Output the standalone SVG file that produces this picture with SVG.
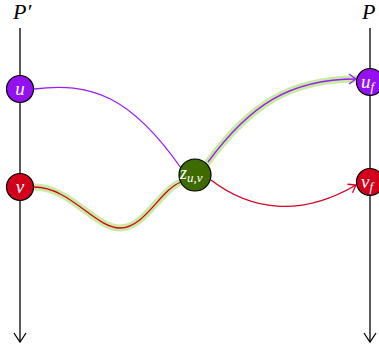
<svg xmlns="http://www.w3.org/2000/svg" width="379" height="354" viewBox="0 0 379 354">
<style>
.lbl{font-family:"Liberation Serif","DejaVu Serif",serif;font-style:italic;fill:#fff}
.title{font-family:"Liberation Serif","DejaVu Serif",serif;font-style:italic;font-size:22px;fill:#000}
.node{stroke:#000;stroke-width:1.2}
.halo{fill:none;stroke:#c9eaa2;stroke-width:7;stroke-linecap:round}
.axis{fill:none;stroke:#000;stroke-width:1.3}
.pur{fill:none;stroke:#9a1cf5;stroke-width:1.3}
.red{fill:none;stroke:#d5001f;stroke-width:1.3}
</style>
<defs>
<marker id="ak" viewBox="-10 -6 12 12" refX="0" refY="0" markerWidth="12" markerHeight="12" markerUnits="userSpaceOnUse" orient="auto" overflow="visible">
<path d="M-9,-6 Q-2,-1.5 0,0 Q-2,1.5 -9,6" fill="none" stroke="#000" stroke-width="1.3"/>
</marker>
<marker id="ap" viewBox="-10 -6 12 12" refX="0" refY="0" markerWidth="12" markerHeight="12" markerUnits="userSpaceOnUse" orient="auto" overflow="visible">
<path d="M-7,-5 Q-1.5,-1 0,0 Q-1.5,1 -7,5" fill="none" stroke="#9a1cf5" stroke-width="1.3"/>
</marker>
<marker id="ar" viewBox="-10 -6 12 12" refX="0" refY="0" markerWidth="12" markerHeight="12" markerUnits="userSpaceOnUse" orient="auto" overflow="visible">
<path d="M-7,-5 Q-1.5,-1 0,0 Q-1.5,1 -7,5" fill="none" stroke="#d5001f" stroke-width="1.3"/>
</marker>
</defs>
<text class="title" x="13" y="19">P′</text>
<text class="title" x="362" y="19">P</text>
<g id="connectors">
<path class="halo" d="M34,187 C70,187 95,228 120,228 C145,228 160,190 181,182"/>
<path class="halo" d="M208,162 C250,105 290,79 356,79"/>
<path class="axis" d="M20,28 V342" marker-end="url(#ak)"/>
<path class="axis" d="M370,28 V342" marker-end="url(#ak)"/>
<path class="pur" d="M34,89 C90,82 130,95 181,168"/>
<path class="red" d="M34,187 C70,187 95,228 120,228 C145,228 160,190 181,182"/>
<path class="pur" d="M208,162 C250,105 290,79 356,79" marker-end="url(#ap)"/>
<path class="red" d="M211,180 C250,210 300,218 356,185" marker-end="url(#ar)"/>
</g>
<g id="node-u"><circle class="node" cx="20" cy="89" r="13.5" fill="#9510f0"/><text class="lbl" x="20" y="95" font-size="19" text-anchor="middle">u</text></g>
<g id="node-v"><circle class="node" cx="20" cy="187" r="13.5" fill="#d3001c"/><text class="lbl" x="20" y="193" font-size="19" text-anchor="middle">v</text></g>
<g id="node-z"><circle class="node" cx="195" cy="175" r="16" fill="#3d6b00"/><text class="lbl" x="180" y="179" font-size="18">z<tspan font-size="13" dy="3">u,v</tspan></text></g>
<g id="node-uf"><circle class="node" cx="370" cy="82" r="13.5" fill="#9510f0"/><text class="lbl" x="361" y="88" font-size="19">u<tspan font-size="13" dy="3">f</tspan></text></g>
<g id="node-vf"><circle class="node" cx="370" cy="182" r="13.5" fill="#d3001c"/><text class="lbl" x="361" y="188" font-size="19">v<tspan font-size="13" dy="3">f</tspan></text></g>
</svg>
